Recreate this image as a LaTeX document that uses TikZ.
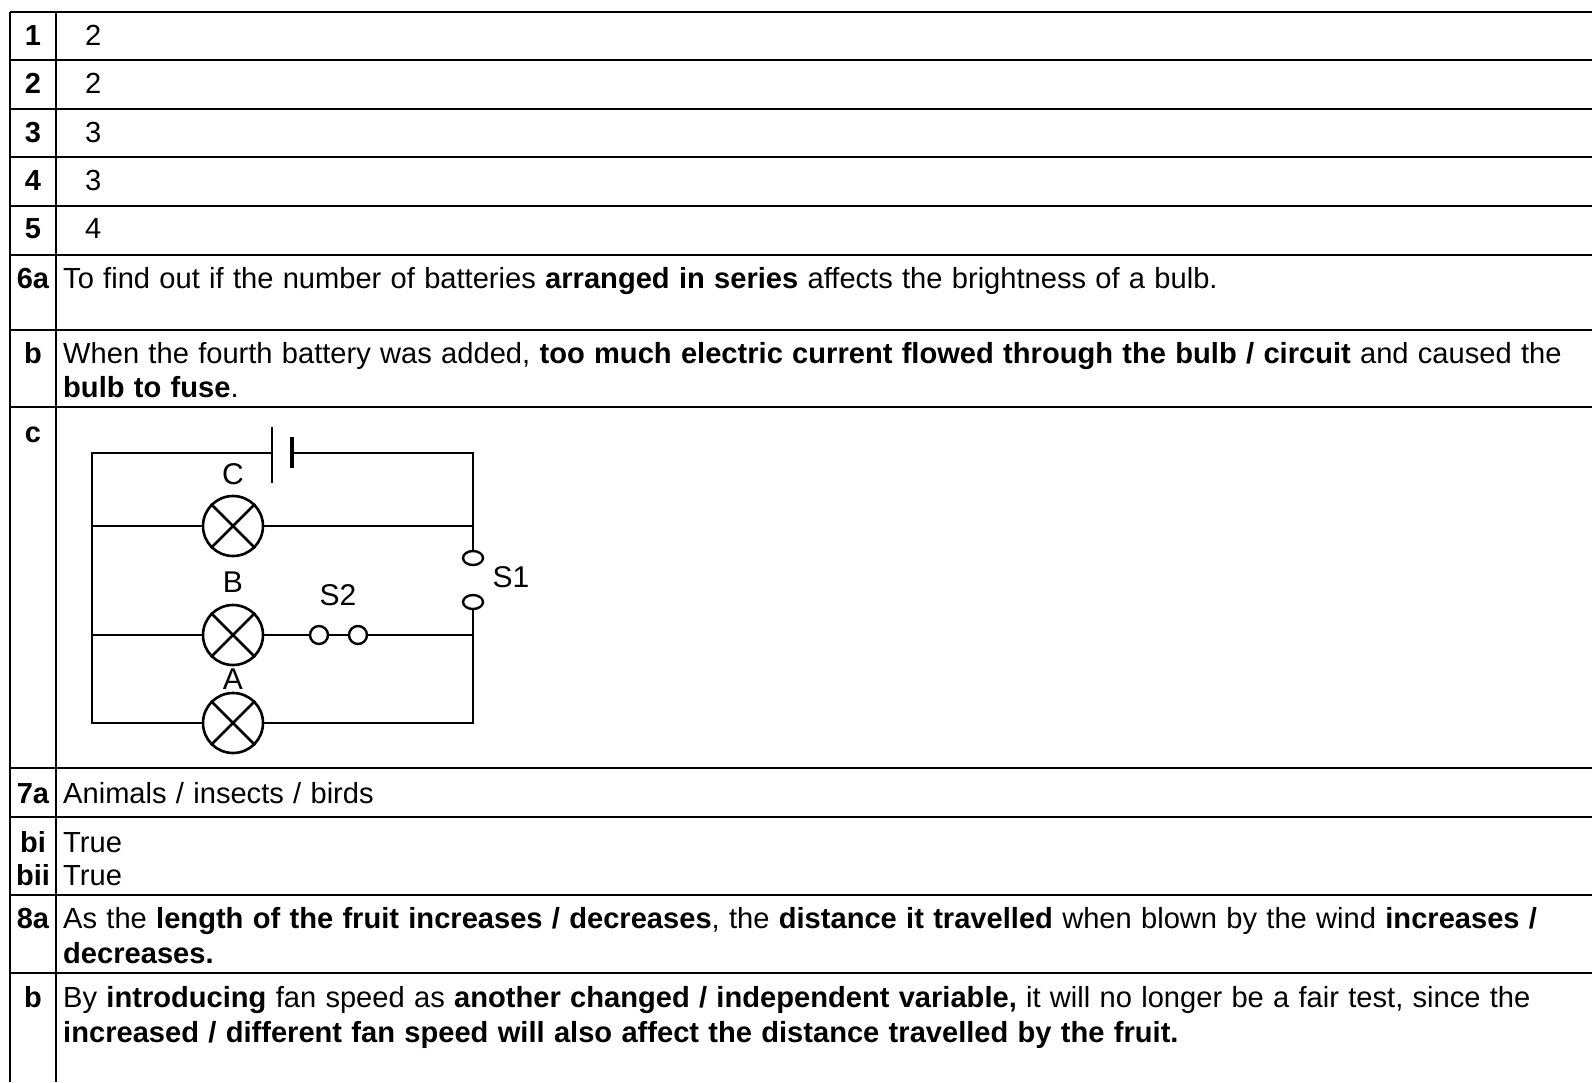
\documentclass[tikz,border=0pt]{standalone}
\usepackage{fontspec}
\setmainfont{Liberation Sans}[WordSpace={1.15}]
\usetikzlibrary{shapes.geometric}
\tikzset{
  tbl/.style={line width=2.3pt, black},
  wire/.style={line width=2.6pt, black},
  lab/.style={anchor=base, inner sep=0pt, font=\fontsize{29}{34}\selectfont\bfseries},
  ans/.style={anchor=base west, inner sep=0pt, font=\fontsize{29.1}{34}\selectfont},
  lamp/.style={circle, draw, line width=2.6pt, minimum size=60pt, inner sep=0pt},
  term/.style={circle, draw, line width=2.4pt, minimum size=18pt, inner sep=0pt},
  sterm/.style={ellipse, draw, line width=2.4pt, minimum width=20pt, minimum height=14pt, inner sep=0pt},
  clab/.style={inner sep=0pt, font=\fontsize{30}{32}\selectfont},
}
\begin{document}
\begin{tikzpicture}[x=1pt,y=-1pt]
\useasboundingbox (0,0) rectangle (1592,1082);
\fill[white] (0,0) rectangle (1592,1082);
% table rules
\foreach \yy in {12,60,109,157,206,255,330,407,768,817,895,973}
  \draw[tbl] (10,\yy) -- (1592,\yy);
\draw[tbl] (10,12) -- (10,1082);
\draw[tbl] (56,12) -- (56,1082);
% row labels
\node[lab] (l1) at (33,45) {1};
\node[lab] (l2) at (33,93) {2};
\node[lab] (l3) at (33,142) {3};
\node[lab] (l4) at (33,190) {4};
\node[lab] (l5) at (33,238) {5};
\node[lab] (l6a) at (33,288) {6a};
\node[lab] (l6b) at (33,363) {b};
\node[lab] (l6c) at (33,442) {c};
\node[lab] (l7a) at (33,803) {7a};
\node[lab] (l7bi) at (33,852) {bi};
\node[lab] (l7bii) at (33,885) {bii};
\node[lab] (l8a) at (33,928) {8a};
\node[lab] (l8b) at (33,1007) {b};
% answers
\node[ans] (a1) at (85,45) {2};
\node[ans] (a2) at (85,93) {2};
\node[ans] (a3) at (85,142) {3};
\node[ans] (a4) at (85,190) {3};
\node[ans] (a5) at (85,238) {4};
\node[ans] (a6a) at (63,288) {To find out if the number of batteries \textbf{arranged in series} affects the brightness of a bulb.};
\node[ans] (a6b1) at (63,363) {When the fourth battery was added, \textbf{too much electric current flowed through the bulb / circuit} and caused the};
\node[ans] (a6b2) at (63,397) {\textbf{bulb to fuse}.};
\node[ans] (a7a) at (63,803) {Animals / insects / birds};
\node[ans] (a7bi) at (63,852) {True};
\node[ans] (a7bii) at (63,885) {True};
\node[ans] (a8a1) at (63,928) {As the \textbf{length of the fruit increases / decreases}, the \textbf{distance it travelled} when blown by the wind \textbf{increases /}};
\node[ans] (a8a2) at (63,963) {\textbf{decreases.}};
\node[ans] (a8b1) at (63,1007) {By \textbf{introducing} fan speed as \textbf{another changed / independent variable,} it will no longer be a fair test, since the};
\node[ans] (a8b2) at (63,1042) {\textbf{increased / different fan speed will also affect the distance travelled by the fruit.}};
% circuit
\coordinate (TL) at (92,453);
\coordinate (TR) at (473,453);
\coordinate (BL) at (92,723);
\coordinate (BR) at (473,723);
\coordinate (CL) at (92,526);
\coordinate (CR) at (473,526);
\coordinate (BBL) at (92,635);
\coordinate (BBR) at (473,635);
\coordinate (bat1) at (272,453);
\coordinate (bat2) at (292,453);
\coordinate (p1t) at (272,427);
\coordinate (p1b) at (272,483);
\coordinate (p2t) at (292,437);
\coordinate (p2b) at (292,468);
\node[lamp] (C) at (233,526) {};
\node[lamp] (B) at (233,635) {};
\node[lamp] (A) at (233,723) {};
\foreach \n in {A,B,C} {
  \draw[wire] (\n.north west) -- (\n.south east);
  \draw[wire] (\n.north east) -- (\n.south west);
}
\node[term] (S2a) at (319,635) {};
\node[term] (S2b) at (358,635) {};
\node[sterm] (S1a) at (473,558) {};
\node[sterm] (S1b) at (473,602) {};
\draw[wire] (bat1) -- (TL) -- (BL) -- (A.west);
\draw[wire] (A.east) -- (BR) -- (S1b.south);
\draw[wire] (S1a.north) -- (TR) -- (bat2);
\draw[wire] (p1t) -- (p1b);
\draw[line width=4.5pt] (p2t) -- (p2b);
\draw[wire] (CL) -- (C.west);
\draw[wire] (C.east) -- (CR);
\draw[wire] (BBL) -- (B.west);
\draw[wire] (B.east) -- (S2a.west);
\draw[wire] (S2a.east) -- (S2b.west);
\draw[wire] (S2b.east) -- (BBR);
\node[clab] (labC) at (233,474) {C};
\node[clab] (labB) at (233,582) {B};
\node[clab] (labA) at (233,679) {A};
\node[clab] (labS2) at (338,595) {S2};
\node[clab] (labS1) at (511,577) {S1};
\end{tikzpicture}
\end{document}
